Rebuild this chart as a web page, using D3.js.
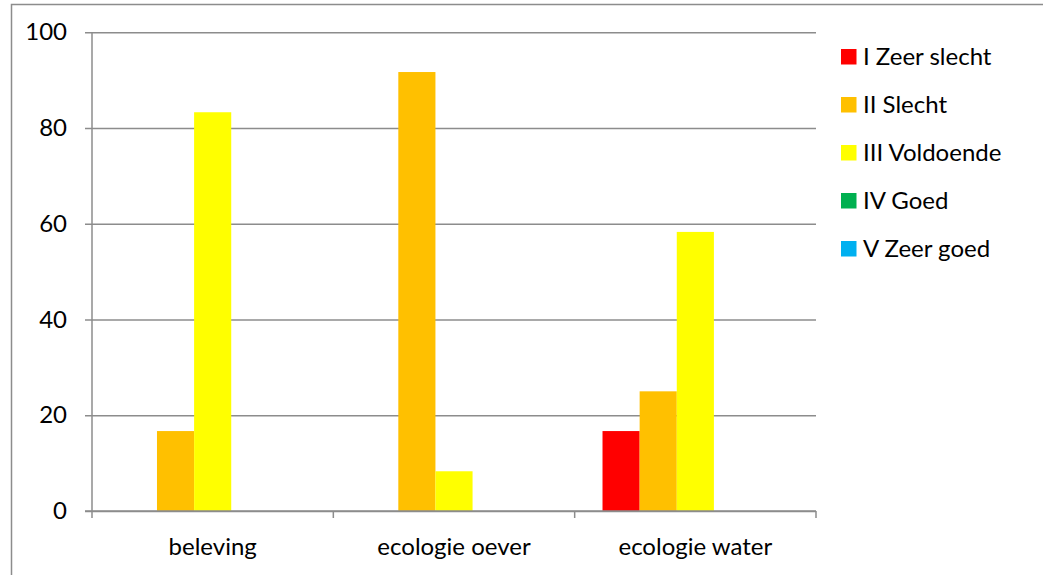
<!DOCTYPE html>
<html>
<head>
<meta charset="utf-8">
<script src="https://cdn.jsdelivr.net/npm/d3@7"></script>
<style>
  html, body { margin: 0; padding: 0; background: #fff; }
  svg { display: block; }
  text { font-family: Lato, "Open Sans", sans-serif; fill: #000; }
</style>
</head>
<body>
<svg id="chart" width="1043" height="575"></svg>
<script>
// Categories, series and values (percentages)
const categories = ["beleving", "ecologie oever", "ecologie water"];
const seriesNames = ["I Zeer slecht", "II Slecht", "III Voldoende", "IV Goed", "V Zeer goed"];
const seriesColors = ["#FF0000", "#FFC000", "#FFFF00", "#00B050", "#00B0F0"];
const valZeerSlecht = [0, 0, 16.7];
const valSlecht = [16.7, 91.7, 25];
const valVoldoende = [83.3, 8.3, 58.3];
const valGoed = [0, 0, 0];
const valZeerGoed = [0, 0, 0];
const yTicks = [0, 20, 40, 60, 80, 100];

const seriesValues = [valZeerSlecht, valSlecht, valVoldoende, valGoed, valZeerGoed];

const svg = d3.select("#chart");
const W = 1043, H = 575;
const plot = { left: 92, right: 816, top: 32.3, bottom: 511 };
const axisFont = 24, legendFont = 24;

// outer chart frame
svg.append("rect")
  .attr("x", 11.5).attr("y", 4.5)
  .attr("width", W + 20).attr("height", H + 20)
  .attr("fill", "#fff").attr("stroke", "#8c8c8c").attr("stroke-width", 1.5);

const x0 = d3.scaleBand().domain(categories).range([plot.left, plot.right]).paddingInner(0).paddingOuter(0);
// 150% gap width: group occupies 5 of 6.5 bar widths, centred in the band
const barW = x0.bandwidth() / (seriesNames.length + 1.5);
const x1 = d3.scaleBand().domain(d3.range(seriesNames.length))
  .range([0.75 * barW, 0.75 * barW + seriesNames.length * barW]);
const y = d3.scaleLinear().domain([0, 100]).range([plot.bottom, plot.top]);

// horizontal gridlines with left tick marks
const yAxis = d3.axisLeft(y).tickValues(yTicks).tickSize(-(plot.right - plot.left)).tickPadding(25);
const gy = svg.append("g").attr("transform", `translate(${plot.left},0)`).call(yAxis);
gy.select(".domain").remove();
gy.selectAll(".tick line").attr("stroke", "#8c8c8c").attr("stroke-width", 1.5).attr("x1", -7);
gy.selectAll(".tick text").attr("font-size", axisFont).attr("font-family", "Lato, sans-serif").attr("fill", "#000");

// bars
const groups = svg.append("g").selectAll("g").data(categories).join("g")
  .attr("transform", d => `translate(${x0(d)},0)`);
groups.selectAll("rect")
  .data((c, ci) => seriesValues.map((vals, si) => ({ si, v: vals[ci] })).filter(d => d.v > 0))
  .join("rect")
  .attr("x", d => x1(d.si))
  .attr("width", x1.bandwidth())
  .attr("y", d => y(d.v))
  .attr("height", d => y(0) - y(d.v))
  .attr("fill", d => seriesColors[d.si]);

// vertical axis line
svg.append("line")
  .attr("x1", plot.left).attr("x2", plot.left)
  .attr("y1", plot.top).attr("y2", plot.bottom)
  .attr("stroke", "#8c8c8c").attr("stroke-width", 1.5);

// category axis with boundary ticks
const boundaries = categories.map(c => x0(c)).concat([plot.right]);
const gx = svg.append("g");
gx.append("line")
  .attr("x1", plot.left - 7).attr("x2", plot.right)
  .attr("y1", plot.bottom).attr("y2", plot.bottom)
  .attr("stroke", "#8c8c8c").attr("stroke-width", 1.5);
gx.selectAll("line.bt").data(boundaries).join("line").attr("class", "bt")
  .attr("x1", d => d).attr("x2", d => d)
  .attr("y1", plot.bottom).attr("y2", plot.bottom + 7)
  .attr("stroke", "#8c8c8c").attr("stroke-width", 1.5);
gx.selectAll("text").data(categories).join("text")
  .attr("x", d => x0(d) + x0.bandwidth() / 2)
  .attr("y", 555)
  .attr("text-anchor", "middle")
  .attr("font-size", axisFont)
  .text(d => d);

// legend
const legend = svg.append("g").selectAll("g").data(seriesNames).join("g")
  .attr("transform", (d, i) => `translate(841,${49 + i * 48})`);
legend.append("rect").attr("width", 15.5).attr("height", 15.5).attr("fill", (d, i) => seriesColors[i]);
legend.append("text").attr("x", 22).attr("y", 8).attr("dy", "0.35em")
  .attr("font-size", legendFont).text(d => d);
</script>
</body>
</html>
